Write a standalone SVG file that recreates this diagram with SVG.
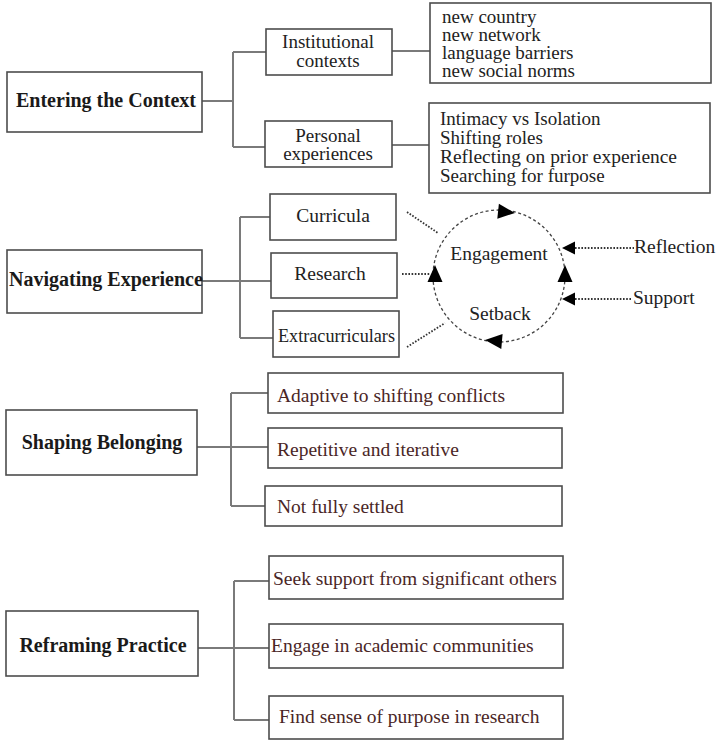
<svg xmlns="http://www.w3.org/2000/svg" width="719" height="741" viewBox="0 0 719 741" font-family="Liberation Serif, Times New Roman, DejaVu Serif, serif">
<defs>
<style>
.box{fill:#fff;stroke:#4d4d4d;stroke-width:1.6}
.ln{fill:none;stroke:#7a7a7a;stroke-width:2}
.dot{fill:none;stroke:#333;stroke-width:1.8;stroke-dasharray:1.6 1.6}
.circ{fill:none;stroke:#444;stroke-width:1.3;stroke-dasharray:3 2.5}
text{font-family:'Liberation Serif','Times New Roman','DejaVu Serif',serif}
.t{font-size:19.5px;fill:#222}
.tl{font-size:19px;fill:#222}
.tb{font-size:20px;font-weight:bold;fill:#1a1a1a}
.tr{font-size:19.5px;fill:#4a2626}
.mid{text-anchor:middle}
.ah{fill:#000}
</style>
<path id="tri" d="M0,0 L-17,-7.5 L-17,7.5 Z"/>
<path id="tri2" d="M0,0 L-13,-6.5 L-13,6.5 Z"/>
</defs>
<rect width="719" height="741" fill="#fff"/>

<g id="connectors">
<path class="ln" d="M202,101 H233 M233,52 V147 M233,52 H266 M233,147 H265 M392,51 H430 M392,145 H429"/>
<path class="ln" d="M202,281 H271 M240,217 V338 M240,217 H270 M240,338 H273"/>
<path class="ln" d="M197,447 H268 M231,393 V506 M231,393 H268 M231,506 H265"/>
<path class="ln" d="M198,648 H269 M234,581 V720 M234,581 H269 M234,720 H269"/>
<circle class="circ" cx="499" cy="276" r="66"/>
<path class="dot" d="M407,212 L438,233"/>
<path class="dot" d="M402,274 H430"/>
<path class="dot" d="M407,347 L445,323"/>
<path class="dot" d="M575,248 H634"/>
<path class="dot" d="M575,299 H632"/>
<use href="#tri" class="ah" transform="translate(515,213) rotate(6)"/>
<use href="#tri" class="ah" transform="translate(565,265) rotate(-90)"/>
<use href="#tri" class="ah" transform="translate(435,265) rotate(-90)"/>
<use href="#tri" class="ah" transform="translate(485,340) rotate(185)"/>
<use href="#tri2" class="ah" transform="translate(562,248) rotate(180)"/>
<use href="#tri2" class="ah" transform="translate(562,299) rotate(180)"/>
</g>

<g id="entering">
<rect class="box" x="7" y="72" width="195" height="60"/>
<text class="tb mid" x="106" y="107">Entering the Context</text>
</g>
<g id="institutional">
<rect class="box" x="266" y="29" width="126" height="46"/>
<text class="tl mid" x="328" y="48">Institutional</text>
<text class="tl mid" x="328" y="67">contexts</text>
</g>
<g id="personal">
<rect class="box" x="265" y="121" width="127" height="46"/>
<text class="tl mid" x="328" y="142">Personal</text>
<text class="tl mid" x="328" y="160">experiences</text>
</g>
<g id="institutional-list">
<rect class="box" x="430" y="3" width="281" height="80"/>
<text class="tl" x="442" y="23">new country</text>
<text class="tl" x="442" y="41">new network</text>
<text class="tl" x="442" y="59">language barriers</text>
<text class="tl" x="442" y="77">new social norms</text>
</g>
<g id="personal-list">
<rect class="box" x="429" y="103" width="281" height="90"/>
<text class="tl" x="440" y="125">Intimacy vs Isolation</text>
<text class="tl" x="440" y="144">Shifting roles</text>
<text class="tl" x="440" y="163" textLength="237" lengthAdjust="spacingAndGlyphs">Reflecting on prior experience</text>
<text class="tl" x="440" y="182">Searching for furpose</text>
</g>

<g id="navigating">
<rect class="box" x="7" y="250" width="195" height="63"/>
<text class="tb" x="9" y="286">Navigating Experience</text>
</g>
<g id="curricula">
<rect class="box" x="270" y="194" width="126" height="46"/>
<text class="t mid" x="333" y="222">Curricula</text>
</g>
<g id="research">
<rect class="box" x="271" y="253" width="126" height="45"/>
<text class="t mid" x="330" y="280">Research</text>
</g>
<g id="extracurriculars">
<rect class="box" x="273" y="311" width="126" height="46"/>
<text class="t" x="278" y="342" textLength="117" lengthAdjust="spacingAndGlyphs">Extracurriculars</text>
</g>
<g id="engagement">
<text class="t mid" x="499" y="260">Engagement</text>
</g>
<g id="setback">
<text class="t mid" x="500" y="320">Setback</text>
</g>
<g id="reflection">
<text class="t" x="634" y="253">Reflection</text>
</g>
<g id="support">
<text class="t" x="633" y="304">Support</text>
</g>

<g id="shaping">
<rect class="box" x="6" y="410" width="191" height="65"/>
<text class="tb mid" x="102" y="449">Shaping Belonging</text>
</g>
<g id="adaptive">
<rect class="box" x="268" y="373" width="295" height="40"/>
<text class="tr" x="277" y="402">Adaptive to shifting conflicts</text>
</g>
<g id="repetitive">
<rect class="box" x="268" y="428" width="294" height="40"/>
<text class="tr" x="277" y="456">Repetitive and iterative</text>
</g>
<g id="settled">
<rect class="box" x="265" y="486" width="297" height="40"/>
<text class="tr" x="277" y="513">Not fully settled</text>
</g>

<g id="reframing">
<rect class="box" x="6" y="611" width="192" height="65"/>
<text class="tb mid" x="103" y="652">Reframing Practice</text>
</g>
<g id="seek">
<rect class="box" x="269" y="556" width="294" height="43"/>
<text class="tr" x="273" y="585">Seek support from significant others</text>
</g>
<g id="engage">
<rect class="box" x="269" y="624" width="294" height="44"/>
<text class="tr" x="271" y="652">Engage in academic communities</text>
</g>
<g id="find">
<rect class="box" x="269" y="696" width="294" height="43"/>
<text class="tr" x="279" y="723">Find sense of purpose in research</text>
</g>
</svg>
